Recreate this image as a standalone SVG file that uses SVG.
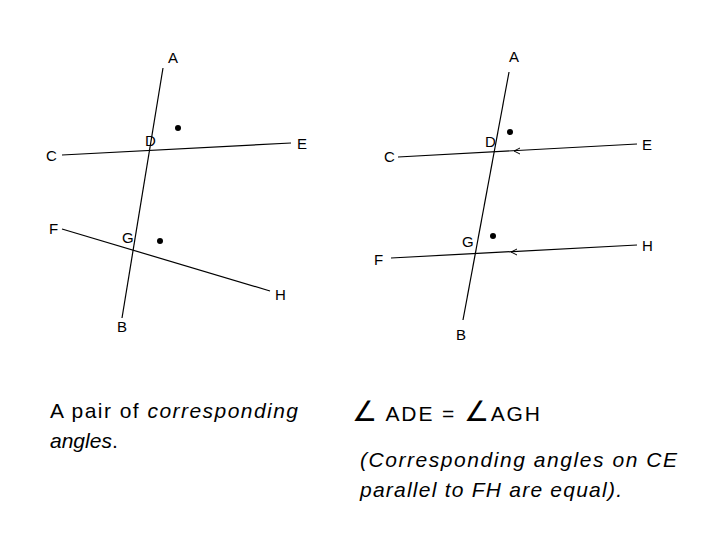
<svg xmlns="http://www.w3.org/2000/svg" width="728" height="546" viewBox="0 0 728 546">
<style>
text{font-family:"Liberation Sans",Arial,sans-serif;fill:#000}
.l{font-size:15px}
.b{font-size:21px}
line{stroke:#000;stroke-width:1.2}
.ar{fill:none;stroke:#000;stroke-width:1}
</style>
<rect width="728" height="546" fill="#fff"/>
<g id="connectors">
<line x1="163" y1="68" x2="122" y2="318"/>
<line x1="62" y1="155" x2="291" y2="143"/>
<line x1="62" y1="229" x2="270" y2="291"/>
<line x1="509" y1="72" x2="463" y2="320"/>
<line x1="398" y1="157" x2="637" y2="144"/>
<line x1="391" y1="258" x2="637" y2="245"/>
<path class="ar" d="M520 148 L514 151 L520 154"/>
<path class="ar" d="M517 249 L511 252 L517 255"/>
</g>
<g id="left-nodes">
<circle cx="178" cy="128" r="3"/>
<circle cx="160" cy="241" r="3"/>
<text class="l" x="168" y="63">A</text>
<text class="l" x="145" y="146">D</text>
<text class="l" x="297" y="149">E</text>
<text class="l" x="46" y="161">C</text>
<text class="l" x="49" y="234">F</text>
<text class="l" x="122" y="243">G</text>
<text class="l" x="275" y="300">H</text>
<text class="l" x="117" y="332">B</text>
</g>
<g id="right-nodes">
<circle cx="510" cy="132" r="3"/>
<circle cx="493" cy="236" r="3"/>
<text class="l" x="509" y="62">A</text>
<text class="l" x="485" y="147">D</text>
<text class="l" x="642" y="150">E</text>
<text class="l" x="384" y="162">C</text>
<text class="l" x="462" y="247">G</text>
<text class="l" x="642" y="251">H</text>
<text class="l" x="374" y="265">F</text>
<text class="l" x="456" y="340">B</text>
</g>
<g id="captions">
<text class="b" x="50" y="418" textLength="248">A pair of <tspan font-style="italic">corresponding</tspan></text>
<text class="b" x="50" y="448"><tspan font-style="italic">angles</tspan>.</text>
<text class="b" x="352" y="421" textLength="188"><tspan font-size="28">∠</tspan> ADE = <tspan font-size="28">∠</tspan>AGH</text>
<text class="b" x="360" y="467" font-style="italic" textLength="317">(Corresponding angles on CE</text>
<text class="b" x="360" y="497" font-style="italic" textLength="262">parallel to FH are equal).</text>
</g>
</svg>
